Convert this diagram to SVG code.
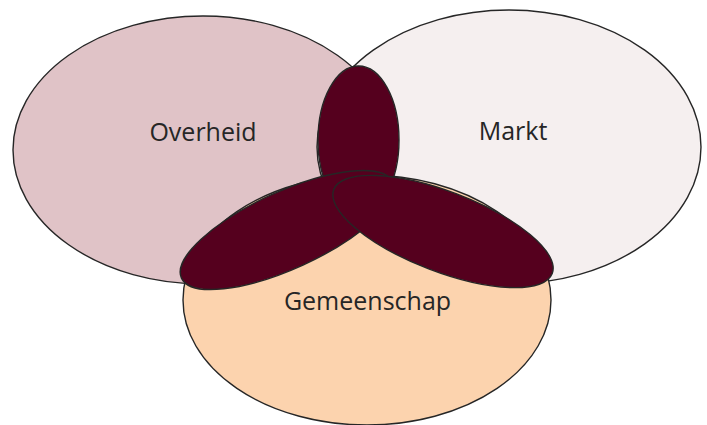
<svg xmlns="http://www.w3.org/2000/svg" width="707" height="425" viewBox="0 0 707 425">
  <style>
    .set { stroke: #262626; stroke-width: 1.4; }
    .petal { fill: #55001E; stroke: #262626; stroke-width: 1.4; }
    .label { font-family: "Open Sans", "Noto Sans", "DejaVu Sans", sans-serif; font-size: 25px; fill: #262626; text-anchor: middle; }
  </style>
  <rect width="707" height="425" fill="#FFFFFF"/>
  <g id="overheid">
    <ellipse class="set" cx="203" cy="150" rx="190" ry="134" fill="#E0C3C7"/>
    <text class="label" x="203" y="141">Overheid</text>
  </g>
  <g id="markt">
    <ellipse class="set" cx="509" cy="147" rx="192" ry="137" fill="#F5EFEF"/>
    <text class="label" x="513" y="140">Markt</text>
  </g>
  <g id="gemeenschap">
    <ellipse class="set" cx="367" cy="300" rx="184" ry="125" fill="#FCD3AE"/>
    <text class="label" x="367.5" y="310">Gemeenschap</text>
  </g>
  <g id="overlap-overheid-markt">
    <ellipse class="petal" cx="358.5" cy="140" rx="40.5" ry="74"/>
  </g>
  <g id="overlap-overheid-gemeenschap">
    <ellipse class="petal" cx="287" cy="230" rx="116" ry="38.5" transform="rotate(-24.5 287 230)"/>
  </g>
  <g id="overlap-markt-gemeenschap">
    <ellipse class="petal" cx="443" cy="231.5" rx="117" ry="40" transform="rotate(21 443 231.5)"/>
  </g>
</svg>
